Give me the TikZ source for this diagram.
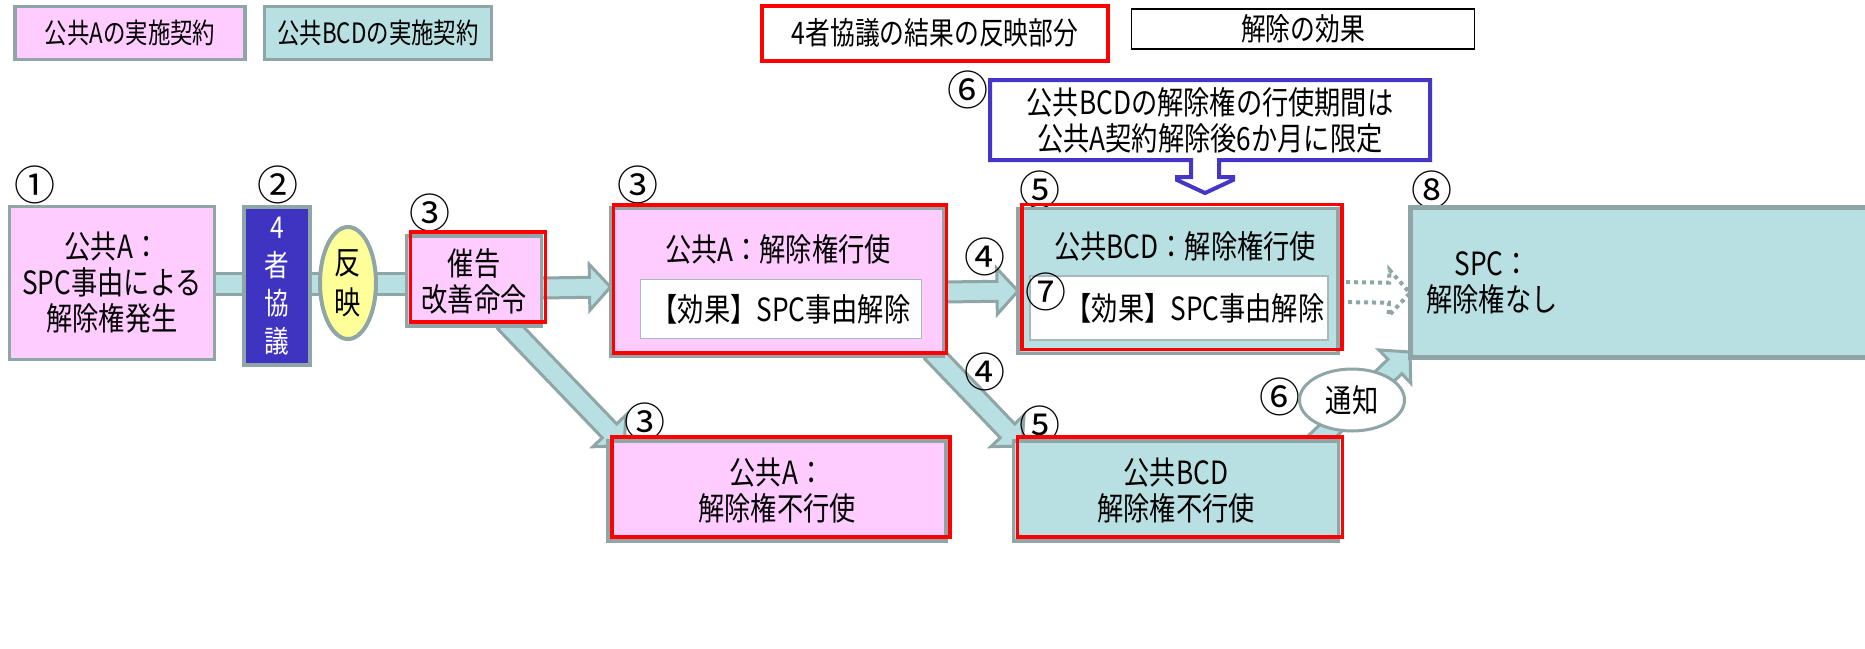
\documentclass[tikz,border=0pt]{standalone}
\usepackage{fontspec}
\setmainfont{Noto Sans CJK JP}[FakeStretch=0.82]
\newfontfamily\numfont{Noto Sans CJK JP}
\newfontfamily\legfont{Noto Sans CJK JP}[FakeStretch=0.8]
\usetikzlibrary{calc,shapes.geometric,backgrounds}
\definecolor{pinkF}{HTML}{FFCCFF}
\definecolor{tealF}{HTML}{B8DFE2}
\definecolor{grayB}{HTML}{8FA5A6}
\definecolor{blueF}{HTML}{3F33C1}
\definecolor{blueB}{HTML}{4536C8}
\definecolor{yelF}{HTML}{FFFF99}
\definecolor{effB}{HTML}{A9B8B9}
% block arrow between two named coordinates: [style]{from}{to}
\newcommand\blkarr[3][]{%
  \path ($(#3)!21pt!(#2)$) coordinate (hb);
  \draw[blockarrow,#1] ($(#2)!10pt!90:(#3)$) -- ($(hb)!10pt!90:(#3)$) -- ($(hb)!23pt!90:(#3)$) -- (#3)
    -- ($(hb)!23pt!-90:(#3)$) -- ($(hb)!10pt!-90:(#3)$) -- ($(#2)!10pt!-90:(#3)$) -- cycle;}
\begin{document}
\begin{tikzpicture}[x=1pt,y=-1pt,
  txt/.style={font=\fontsize{32}{36}\selectfont, align=center, inner sep=0pt, outer sep=0pt},
  legtxt/.style={font=\legfont\fontsize{28}{30}\selectfont, inner sep=0pt, outer sep=0pt},
  legtxtb/.style={font=\legfont\fontsize{31}{32}\selectfont, inner sep=0pt, outer sep=0pt},
  num/.style={font=\numfont\fontsize{41}{41}\selectfont, inner sep=0pt},
  pinkbox/.style={draw=grayB, line width=3.5pt, fill=pinkF, inner sep=0pt, outer sep=0pt},
  tealbox/.style={draw=grayB, line width=3.5pt, fill=tealF, inner sep=0pt, outer sep=0pt},
  redframe/.style={draw=red, line width=3.5pt},
  effbox/.style={draw=effB, line width=1.5pt, fill=white, inner sep=0pt, outer sep=0pt},
  blockarrow/.style={draw=grayB, fill=tealF, line width=3pt, line join=miter},
  dotarrow/.style={draw=grayB, fill=none, line width=4pt, dash pattern=on 4pt off 4pt, line join=miter},
  callout/.style={draw=blueB, line width=4pt, line join=miter}
]
\useasboundingbox (0,0) rectangle (1865,648);

% ---------- legend ----------
\node[pinkbox, legtxt, minimum width=230, minimum height=53] (lA) at (130,33) {公共Aの実施契約};
\node[tealbox, legtxt, minimum width=227, minimum height=53] (lB) at (378,33) {公共BCDの実施契約};
\node[draw=red, line width=4pt, fill=white, legtxtb, minimum width=346, minimum height=55] (lR) at (935,33) {4者協議の結果の反映部分};
\node[draw=black, line width=1.2pt, fill=white, legtxtb, minimum width=343, minimum height=40] (lE) at (1303,29) {解除の効果};

% ---------- main nodes ----------
\node[num] (n1) at (35,185) {①};
\node[pinkbox, txt, minimum width=205, minimum height=153] (a1) at (112,283) {公共A：\\SPC事由による\\解除権発生};

\node[num] (n2) at (278,185) {②};
\node[draw=grayB, line width=4pt, fill=blueF, minimum width=66, minimum height=158, txt, text=white, font=\fontsize{30}{38}\selectfont] (kyo) at (277,286) {4\\者\\協\\議};

\node[ellipse, draw=grayB, line width=4pt, fill=yelF, minimum width=56, minimum height=112, txt, font=\fontsize{32}{40}\selectfont] (han) at (348,283) {反\\映};

\node[num] (n3a) at (430,213) {③};
\node[pinkbox, txt, minimum width=135, minimum height=90] (sai) at (474,281) {催告\\改善命令};
\draw[redframe] ($(sai.north west)+(4,-4)$) rectangle ($(sai.south east)+(4,-4)$);

\node[num] (n3b) at (638,185) {③};
\node[pinkbox, minimum width=333, minimum height=148] (aex) at (777,282) {};
\draw[redframe] ($(aex.north west)+(3,-3)$) rectangle ($(aex.south east)+(3,-3)$);
\node[txt] (aext) at (778,249) {公共A：解除権行使};
\node[effbox, txt, minimum width=281, minimum height=59] (aeff) at (781,309) {【効果】SPC事由解除};

\node[num] (n3c) at (645,422) {③};
\node[pinkbox, txt, minimum width=338, minimum height=100] (anon) at (777,491) {公共A：\\解除権不行使};
\draw[redframe] ($(anon.north west)+(4,-4)$) rectangle ($(anon.south east)+(4,-4)$);

\node[num] (n4a) at (985,257) {④};
\node[num] (n4b) at (985,372) {④};

\node[num] (n5a) at (1040,190) {⑤};
\node[tealbox, minimum width=320, minimum height=145] (bex) at (1178,281) {};
\draw[redframe] ($(bex.north west)+(4,-4)$) rectangle ($(bex.south east)+(4,-4)$);
\node[txt] (bext) at (1185,246) {公共BCD：解除権行使};
\node[effbox, minimum width=298, minimum height=64] (beff) at (1179,308) {};
\node[txt] (befft) at (1195,308) {【効果】SPC事由解除};
\node[num] (n7) at (1046,292) {⑦};

\node[num] (n5b) at (1040,425) {⑤};
\node[tealbox, txt, minimum width=325, minimum height=100] (bnon) at (1176,491) {公共BCD\\解除権不行使};
\draw[redframe] ($(bnon.north west)+(4,-4)$) rectangle ($(bnon.south east)+(4,-4)$);

\node[num] (n6a) at (968,90) {⑥};
\node[txt, minimum width=440, minimum height=80] (b6) at (1210,120) {公共BCDの解除権の行使期間は\\公共A契約解除後6か月に限定};
\coordinate (c6) at ($(b6.south)+(-5,0)$);
\draw[callout] (b6.north west) -- (b6.north east) -- (b6.south east)
  -- ($(c6)+(14,0)$) -- ($(c6)+(14,17)$) -- ($(c6)+(28,17)$) -- ($(c6)+(28,20)$) -- ($(c6)+(0,33)$)
  -- ($(c6)+(-28,20)$) -- ($(c6)+(-28,17)$) -- ($(c6)+(-14,17)$) -- ($(c6)+(-14,0)$) -- (b6.south west) -- cycle;

\node[num] (n8) at (1432,190) {⑧};
\node[draw=grayB, line width=5pt, fill=tealF, minimum width=470, minimum height=150, inner sep=0pt, outer sep=0pt] (spc) at (1645,282) {};
\node[txt] (spct) at (1492,283) {SPC：\\解除権なし};

\node[num] (n6b) at (1280,397) {⑥};

% ---------- connectors (behind) ----------
\coordinate (s1) at ($(sai.east)+(0,7)$);  \coordinate (e1) at ($(aex.west)+(0,5)$);
\coordinate (s2) at (505,322);             \coordinate (e2) at (624,446);
\coordinate (s3) at ($(aex.east)+(0,10)$); \coordinate (e3) at ($(bex.west)+(0,10)$);
\coordinate (s4) at (932,352);             \coordinate (e4) at (1022,446);
\coordinate (s5) at ($(bex.east)+(0,11)$); \coordinate (e5) at ($(spc.west)+(0,11)$);
\coordinate (s6) at (1312,446);            \coordinate (e6) at (1410,352);
\begin{scope}[on background layer]
  \draw[blockarrow] ($(a1.east)+(-5,-10)$) rectangle ($(sai.west)+(5,13)$);
  \blkarr{s1}{e1}
  \blkarr{s2}{e2}
  \blkarr{s3}{e3}
  \blkarr{s4}{e4}
  \blkarr[dotarrow]{s5}{e5}
  \blkarr{s6}{e6}
\end{scope}
\node[ellipse, draw=grayB, line width=3pt, fill=white, minimum width=105, minimum height=62, txt] (tsu) at (1352,400) {通知};
\end{tikzpicture}
\end{document}
